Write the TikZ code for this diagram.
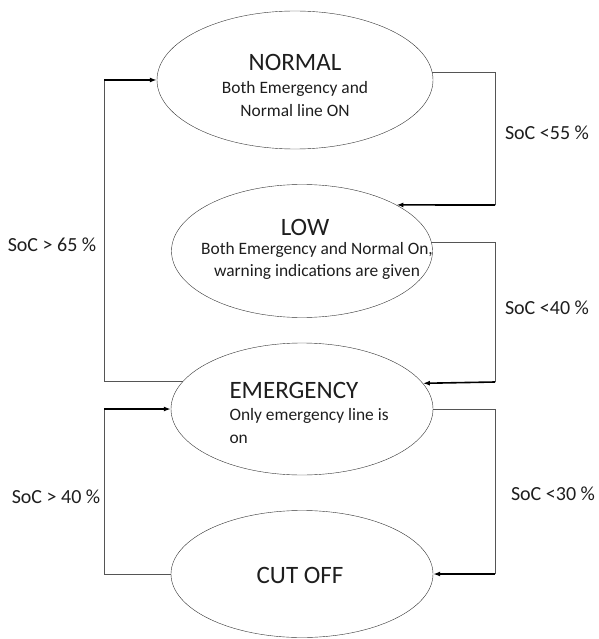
\documentclass[tikz,border=0pt]{standalone}
\usepackage{tikz}
\usetikzlibrary{arrows.meta,shapes.geometric}
\usepackage{fontspec}
\setmainfont{Carlito}
\definecolor{wireGrey}{RGB}{85,85,85}
\definecolor{textGrey}{RGB}{30,30,30}

\begin{document}
\begin{tikzpicture}[x=1pt, y=-1pt,
    state/.style={draw=black!80, ellipse, inner sep=0pt},
    title/.style={font=\fontsize{25}{28}\selectfont, text=textGrey},
    body/.style={font=\fontsize{17.4}{22.5}\selectfont, text=textGrey, align=center},
    cond/.style={font=\fontsize{20}{22}\selectfont, text=textGrey},
    wire/.style={draw=wireGrey, line width=0.8pt},
    arrow/.style={draw=black, line width=1.6pt, -{Latex[length=7pt,width=5pt]}}]
    \newcommand\railR{495}
    \newcommand\railL{104}

    \useasboundingbox (0,0) rectangle (598,639);

    % states
    \node[state, minimum width=276pt, minimum height=138pt] (normal) at (295,80) {};
    \node[state, minimum width=261pt, minimum height=133pt] (low) at (302,251) {};
    \node[state, minimum width=262pt, minimum height=132pt] (emergency) at (302,409) {};
    \node[state, minimum width=262pt, minimum height=127pt] (cutoff) at (302,574) {};

    \node[title] (normaltitle) at (295,62) {NORMAL};
    \node[body] (normalbody) at (295,99) {Both Emergency and\\Normal line ON};
    \node[title] (lowtitle) at (305,227) {LOW};
    \node[body] (lowbody) at (317,261) {Both Emergency and Normal On,\\warning indications are given};
    \node[title, anchor=west] (emergencytitle) at (226,390) {EMERGENCY};
    \node[body, align=left, anchor=north west] (emergencybody) at (226,405) {Only emergency line is\\on};
    \node[title] (cutofftitle) at (300,575) {CUT OFF};

    % rail corners
    \coordinate (r1) at (\railR,205);
    \coordinate (r2) at (\railR,382);
    \coordinate (r3) at (\railR,574);
    \coordinate (l1) at (\railL,409);
    \coordinate (l2) at (\railL,80);

    \draw[wire] (normal.3) -| (r1);
    \draw[wire] (low.4) -| (r2);
    \draw[wire] (emergency.east) -| (r3);
    \draw[wire] (cutoff.west) -| (l1);
    \draw[wire] (emergency.167) -| (l2);

    % draw arrow
    \draw[arrow] (r1) -- (low.26);
    \draw[arrow] (r2) -- (emergency.12);
    \draw[arrow] (r3) -- (cutoff.east);
    \draw[arrow] (l1) -- (emergency.west);
    \draw[arrow] (l2) -- (normal.west);

    % conditions
    \node[cond] (c55) at (547,133) {SoC <55 \%};
    \node[cond] (c40) at (547,308) {SoC <40 \%};
    \node[cond] (c30) at (553,494) {SoC <30 \%};
    \node[cond] (c65) at (52,245) {SoC > 65 \%};
    \node[cond] (c40b) at (56,497) {SoC > 40 \%};
\end{tikzpicture}
\end{document}
